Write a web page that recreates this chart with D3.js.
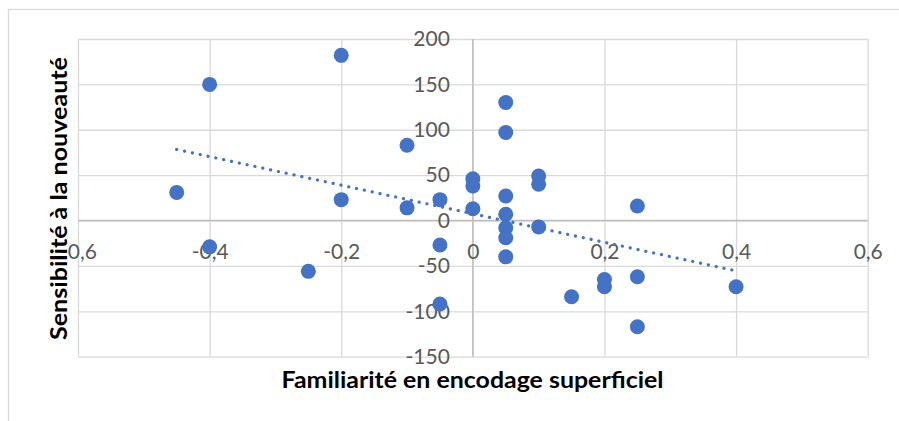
<!DOCTYPE html>
<html>
<head>
<meta charset="utf-8">
<script src="https://cdn.jsdelivr.net/npm/d3@7"></script>
<style>
  html, body { margin: 0; padding: 0; background: #ffffff; }
  svg { display: block; }
</style>
</head>
<body>
<svg id="chart" width="899" height="421"></svg>
<script>
// ---- Data ----
const familiarite = [
  -0.45, -0.4, -0.4, -0.25, -0.2, -0.2, -0.1, -0.1,
  -0.05, -0.05, -0.05, 0, 0, 0,
  0.05, 0.05, 0.05, 0.05, 0.05, 0.05, 0.05,
  0.1, 0.1, 0.1, 0.15, 0.2, 0.2, 0.25, 0.25, 0.25, 0.4
];
const sensibilite = [
  31, 150, -29, -56, 182, 23, 83, 14,
  23, -27, -92, 46, 38, 13,
  130, 97, 27, 7, -8, -19, -40,
  49, 40, -7, -84, -65, -73, 16, -62, -117, -73
];
const xTickValues = [-0.6, -0.4, -0.2, 0, 0.2, 0.4, 0.6];
const yTickValues = [-150, -100, -50, 0, 50, 100, 150, 200];
const xTitle = "Familiarité en encodage superficiel";
const yTitle = "Sensibilité à la nouveauté";

// ---- Layout ----
const W = 899, H = 421;
const plot = { left: 78, right: 867.7, top: 39, bottom: 356.7 };
const FONT = "Lato, 'Open Sans', 'Liberation Sans', sans-serif";
const svg = d3.select("#chart");

const x = d3.scaleLinear().domain([-0.6, 0.6]).range([plot.left, plot.right]);
const y = d3.scaleLinear().domain([-150, 200]).range([plot.bottom, plot.top]);

const fmtX = d => d === 0 ? "0" : String(d).replace(".", ",");
const fmtY = d => String(d);

// chart outer border
svg.append("rect")
  .attr("x", 8.5).attr("y", 9.5)
  .attr("width", 1000).attr("height", 1000)
  .attr("fill", "#ffffff").attr("stroke", "#d9d9d9").attr("stroke-width", 1.3);

// gridlines via axes
const gx = svg.append("g")
  .attr("transform", `translate(0,${plot.bottom})`)
  .call(d3.axisBottom(x).tickValues(xTickValues).tickSize(-(plot.bottom - plot.top)).tickFormat(""));
gx.select(".domain").remove();
gx.selectAll(".tick line").attr("stroke", "#d9d9d9").attr("stroke-width", 1.3);

const gy = svg.append("g")
  .attr("transform", `translate(${plot.left},0)`)
  .call(d3.axisLeft(y).tickValues(yTickValues).tickSize(-(plot.right - plot.left)).tickFormat(""));
gy.select(".domain").remove();
gy.selectAll(".tick line").attr("stroke", "#d9d9d9").attr("stroke-width", 1.3);

// axis lines through zero
svg.append("line")
  .attr("x1", x(0)).attr("x2", x(0)).attr("y1", plot.top).attr("y2", plot.bottom)
  .attr("stroke", "#bfbfbf").attr("stroke-width", 1.5);
svg.append("line")
  .attr("x1", plot.left).attr("x2", plot.right).attr("y1", y(0)).attr("y2", y(0))
  .attr("stroke", "#bfbfbf").attr("stroke-width", 1.5);

// tick labels
const xl = svg.append("g")
  .attr("transform", `translate(0,${y(0)})`)
  .call(d3.axisBottom(x).tickValues(xTickValues).tickSize(0).tickPadding(24).tickFormat(fmtX));
xl.select(".domain").remove();
xl.selectAll("text").attr("font-family", FONT).attr("font-size", 21).attr("fill", "#595959");

const yl = svg.append("g")
  .attr("transform", `translate(${x(0)},0)`)
  .call(d3.axisLeft(y).tickValues(yTickValues).tickSize(0).tickPadding(23).tickFormat(fmtY));
yl.select(".domain").remove();
yl.selectAll("text").attr("font-family", FONT).attr("font-size", 21).attr("fill", "#595959");

// axis titles
svg.append("text")
  .attr("x", 472.5).attr("y", 388)
  .attr("text-anchor", "middle")
  .attr("font-family", FONT).attr("font-weight", "bold").attr("font-size", 22)
  .attr("fill", "#000000")
  .attr("textLength", 382).attr("lengthAdjust", "spacingAndGlyphs")
  .text(xTitle);

svg.append("text")
  .attr("transform", "translate(67,198.5) rotate(-90)")
  .attr("text-anchor", "middle")
  .attr("font-family", FONT).attr("font-weight", "bold").attr("font-size", 22)
  .attr("fill", "#000000")
  .attr("textLength", 283).attr("lengthAdjust", "spacingAndGlyphs")
  .text(yTitle);

// points
const pts = familiarite.map((v, i) => ({ x: v, y: sensibilite[i] }));
svg.append("g").selectAll("circle").data(pts).join("circle")
  .attr("cx", d => x(d.x)).attr("cy", d => y(d.y)).attr("r", 7.5)
  .attr("fill", "#4472C4");

// linear trendline (least squares from the data)
const mx = d3.mean(familiarite), my = d3.mean(sensibilite);
const sxy = d3.sum(pts, d => (d.x - mx) * (d.y - my));
const sxx = d3.sum(pts, d => (d.x - mx) * (d.x - mx));
const slope = sxy / sxx, intercept = my - slope * mx;
const [xmin, xmax] = d3.extent(familiarite);
svg.append("path")
  .datum([xmin, xmax])
  .attr("d", d3.line().x(d => x(d)).y(d => y(intercept + slope * d)))
  .attr("fill", "none").attr("stroke", "#4472C4").attr("stroke-width", 3.2)
  .attr("stroke-linecap", "round").attr("stroke-dasharray", "0.1 7.9");
</script>
</body>
</html>
